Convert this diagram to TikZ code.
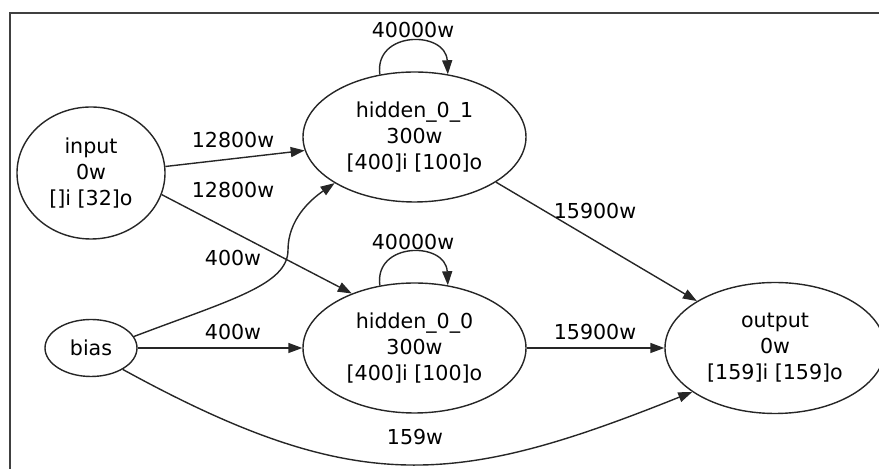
\documentclass[tikz,border=0pt]{standalone}
\usepackage{fontspec}
\setmainfont{DejaVu Sans}
\usetikzlibrary{shapes.geometric,arrows.meta}

\begin{document}
\begin{tikzpicture}[x=0.5pt,y=-0.5pt,line width=0.7pt,draw=black!85,
    layer/.style={ellipse,draw,inner sep=0pt,align=center,
      font=\fontsize{10.3}{13}\selectfont},
    wlabel/.style={font=\fontsize{10.3}{12}\selectfont},
    >={Triangle[length=7pt,width=5pt]}]
  \clip (0,0) rectangle (879,469);
  \draw[line width=1pt,black!75] (10,469) -- (10,13) -- (879,13);

  % layers
  \node[layer,minimum width=74pt,minimum height=66pt] (input) at (91,173) {input\\0w\\{[]i [32]o}};
  \node[layer,minimum width=46pt,minimum height=28.5pt] (bias) at (91,348) {bias};
  \node[layer,minimum width=111.5pt,minimum height=65pt] (h01) at (414.5,137) {hidden\_0\_1\\300w\\{[400]i [100]o}};
  \node[layer,minimum width=111.5pt,minimum height=65pt] (h00) at (414.5,348) {hidden\_0\_0\\300w\\{[400]i [100]o}};
  \node[layer,minimum width=110pt,minimum height=65.5pt] (out) at (775,348) {output\\0w\\{[159]i [159]o}};

  % connections
  \draw[->] (input.5) -- (h01.187);
  \draw[->] (input.-17) -- (h00.139);
  \coordinate (bend) at (288,250);
  \draw[->] (bias.15) .. controls (230,300) and (288,285) .. (bend)
    .. controls (288,220) and (310,200) .. (h01.210);
  \draw[->] (bias) -- (h00);
  \draw[->] (bias.-34) .. controls +(235,129) and +(-235,94) .. (out.208);
  \draw[->] (h01.119) .. controls +(-6,-44) and +(-2,-44) .. (h01.62);
  \draw[->] (h00.119) .. controls +(-6,-44) and +(-2,-44) .. (h00.62);
  \draw[->] (h01.-29) -- (out.149);
  \draw[->] (h00) -- (out);

  % weights
  \node[wlabel] (w1) at (233,140) {12800w};
  \node[wlabel] (w2) at (233,190) {12800w};
  \node[wlabel] (w3) at (233,258) {400w};
  \node[wlabel] (w4) at (233,332) {400w};
  \node[wlabel] (w5) at (413,30) {40000w};
  \node[wlabel] (w6) at (413,242) {40000w};
  \node[wlabel] (w7) at (595,211) {15900w};
  \node[wlabel] (w8) at (595,332) {15900w};
  \node[wlabel] (w9) at (415,437) {159w};
\end{tikzpicture}
\end{document}
